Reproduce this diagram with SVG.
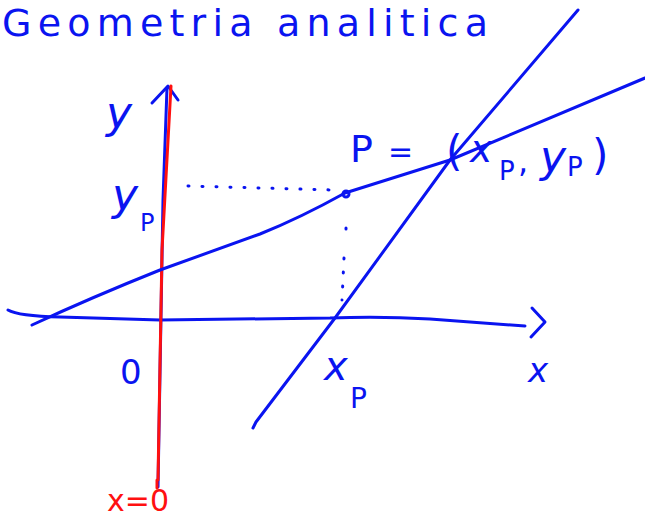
<svg xmlns="http://www.w3.org/2000/svg" width="645" height="522" viewBox="0 0 645 522">
<style>
.b{fill:none;stroke:#0a14f0;stroke-width:3;stroke-linecap:round;stroke-linejoin:round}
.r{fill:none;stroke:#ff1010;stroke-width:3;stroke-linecap:round}
.d{fill:none;stroke:#0a14f0;stroke-width:3;stroke-linecap:round;stroke-dasharray:1 13}
.t{font-family:"DejaVu Sans",sans-serif;fill:#0a14f0}
.tr{font-family:"DejaVu Sans",sans-serif;fill:#ff1010}
</style>
<rect width="645" height="522" fill="#fff"/>
<g id="title"><text class="t" x="2" y="36" font-size="38" textLength="486" lengthAdjust="spacing">Geometria analitica</text></g>
<g id="connectors">
<path id="x-axis" class="b" d="M8,310 Q18,316 60,317 L160,320 L330,318 Q380,316 430,319 L525,326"/>
<path id="x-arrow" class="b" d="M532,308 L545,322 L531,337"/>
<path id="y-axis" class="b" d="M158,487 L163,200 L167,88"/>
<path id="y-arrow" class="b" d="M152,103 L168,86 L178,100"/>
<path id="line-x0" class="r" d="M157,480 L157,488 M158,480 L162,250 L171,86"/>
<path id="line1" class="b" d="M32,325 Q90,298 160,270 L260,234 Q300,218 345,193 L450,160 L645,78"/>
<path id="line2" class="b" d="M253,428 L256,422 L335,318 L450,160 L578,10"/>
<path id="dots-h" class="d" d="M188,186 L333,190"/>
<path id="dots-v" class="d" d="M346,228 L346,240 M344,258 L342,300"/>
</g>
<g id="point-P"><circle cx="346" cy="194" r="3" class="b"/></g>
<g id="labels">
<text class="t" x="106" y="128" font-size="44" font-style="italic">y</text>
<text class="t" x="112" y="210" font-size="44" font-style="italic">y</text>
<text class="t" x="140" y="231" font-size="24">P</text>
<text class="t" x="120" y="384" font-size="34">0</text>
<text class="t" x="528" y="382" font-size="34" font-style="italic">x</text>
<text class="t" x="324" y="380" font-size="40" font-style="italic">x</text>
<text class="t" x="350" y="408" font-size="28">P</text>
<text class="t" x="350" y="162" font-size="38">P</text>
<text class="t" x="388" y="162" font-size="30">=</text>
<text class="t" x="446" y="166" font-size="42">(</text>
<text class="t" x="470" y="162" font-size="38" font-style="italic">x</text>
<text class="t" x="499" y="180" font-size="26">P</text>
<text class="t" x="518" y="172" font-size="32">,</text>
<text class="t" x="540" y="172" font-size="44" font-style="italic">y</text>
<text class="t" x="567" y="176" font-size="26">P</text>
<text class="t" x="592" y="170" font-size="42">)</text>
<text class="tr" x="107" y="511" font-size="30">x=0</text>
</g>
</svg>
